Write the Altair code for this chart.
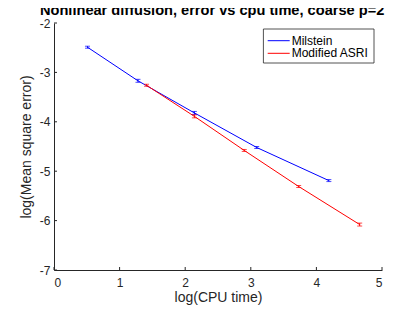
import altair as alt
import pandas as pd

# ---- data ----
series = ["Milstein", "Modified ASRI"]
colors = ["#0000FF", "#FF0000"]

mil_x = [0.51, 1.28, 2.14, 3.09, 4.19]
mil_y = [-2.49, -3.17, -3.82, -4.52, -5.19]
mil_err = [0.02, 0.03, 0.03, 0.02, 0.02]

asri_x = [1.41, 2.14, 2.90, 3.73, 4.66]
asri_y = [-3.26, -3.89, -4.58, -5.31, -6.08]
asri_err = [0.02, 0.03, 0.02, 0.02, 0.03]

x_ticks = [0, 1, 2, 3, 4, 5]
y_ticks = [-7, -6, -5, -4, -3, -2]

title_text = "Nonlinear diffusion, error vs cpu time, coarse p=2"
x_title = "log(CPU time)"
y_title = "log(Mean square error)"

# ---- layout / style ----
L, T, R, B = 46, 15, 4, 38
W, H = 328, 247
FONT = "Liberation Sans"
AX = "#262626"

rows = []
for s, xs_, ys_, es_ in [(series[0], mil_x, mil_y, mil_err), (series[1], asri_x, asri_y, asri_err)]:
    for i, (x, y, e) in enumerate(zip(xs_, ys_, es_)):
        rows.append({"series": s, "x": x, "y": y, "lo": y - e, "hi": y + e, "order": i})
df = pd.DataFrame(rows)

xs = alt.Scale(domain=[0, 5], nice=False, zero=False)
ys = alt.Scale(domain=[-7, -2], nice=False, zero=False)
cs = alt.Scale(domain=series, range=colors)

LBL = "'' + datum.value"
xaxis = alt.Axis(values=x_ticks, ticks=False, grid=False, domainColor=AX, labelColor=AX,
                 titleColor=AX, labelFont=FONT, titleFont=FONT, labelFontSize=12,
                 titleFontSize=14, titleFontWeight="normal", labelPadding=7, titlePadding=2,
                 labelExpr=LBL)
yaxis = alt.Axis(values=y_ticks, ticks=False, grid=False, domainColor=AX, labelColor=AX,
                 titleColor=AX, labelFont=FONT, titleFont=FONT, labelFontSize=12,
                 titleFontSize=14, titleFontWeight="normal", labelPadding=4, titlePadding=6,
                 labelExpr=LBL)

base = alt.Chart(df)
col = alt.Color("series:N", scale=cs, legend=None)

lines = base.mark_line(strokeWidth=1).encode(
    x=alt.X("x:Q", scale=xs, axis=xaxis, title=x_title),
    y=alt.Y("y:Q", scale=ys, axis=yaxis, title=y_title),
    color=col,
    order="order:Q",
)
bars = base.mark_rule(strokeWidth=1).encode(x="x:Q", y="lo:Q", y2="hi:Q", color=col)
cap_lo = base.mark_tick(orient="horizontal", size=5, thickness=1).encode(
    x="x:Q", y="lo:Q", color=col)
cap_hi = base.mark_tick(orient="horizontal", size=5, thickness=1).encode(
    x="x:Q", y="hi:Q", color=col)

# inward ticks (MATLAB style)
xt = alt.Chart(pd.DataFrame({"t": x_ticks})).mark_rule(color=AX, strokeWidth=1).encode(
    x=alt.X("t:Q", scale=xs), y=alt.value(H), y2=alt.value(H - 3))
yt = alt.Chart(pd.DataFrame({"t": y_ticks})).mark_rule(color=AX, strokeWidth=1).encode(
    y=alt.Y("t:Q", scale=ys), x=alt.value(0), x2=alt.value(3))

# title as text (starts left of the plot, runs past the right edge like the original)
title = alt.Chart(pd.DataFrame({"t": [title_text]})).mark_text(
    align="left", baseline="alphabetic", font=FONT, fontSize=14.6, fontWeight="bold",
    color="black").encode(x=alt.value(32 - L), y=alt.value(7 - T), text="t:N")

# legend box
LX1 = W - 8
LX0 = LX1 - 110.6
LY0, LY1 = 6, 40
box = alt.Chart(pd.DataFrame({"a": [0]})).mark_rect(
    fill="white", stroke=AX, strokeWidth=0.8).encode(
    x=alt.value(LX0), x2=alt.value(LX1), y=alt.value(LY0), y2=alt.value(LY1))
legend_layers = [box]
for i, s in enumerate(series):
    yy = LY0 + 11.7 + 12.6 * i
    one = alt.Chart(pd.DataFrame({"series": [s]}))
    legend_layers.append(one.mark_rule(color=colors[i], strokeWidth=1).encode(
        x=alt.value(LX0 + 4.3), x2=alt.value(LX0 + 26.3), y=alt.value(yy)))
    legend_layers.append(one.mark_text(align="left", baseline="middle", font=FONT,
                                       fontSize=12, color="black").encode(
        x=alt.value(LX0 + 28.3), y=alt.value(yy), text="series:N"))

chart = alt.layer(lines, bars, cap_lo, cap_hi, xt, yt, title, *legend_layers).properties(
    width=W, height=H,
    autosize=alt.AutoSizeParams(type="none"),
    padding={"left": L, "top": T, "right": R, "bottom": B},
).configure_view(stroke=None)

chart.save("out.html", embed_options={"renderer": "svg", "actions": False})
